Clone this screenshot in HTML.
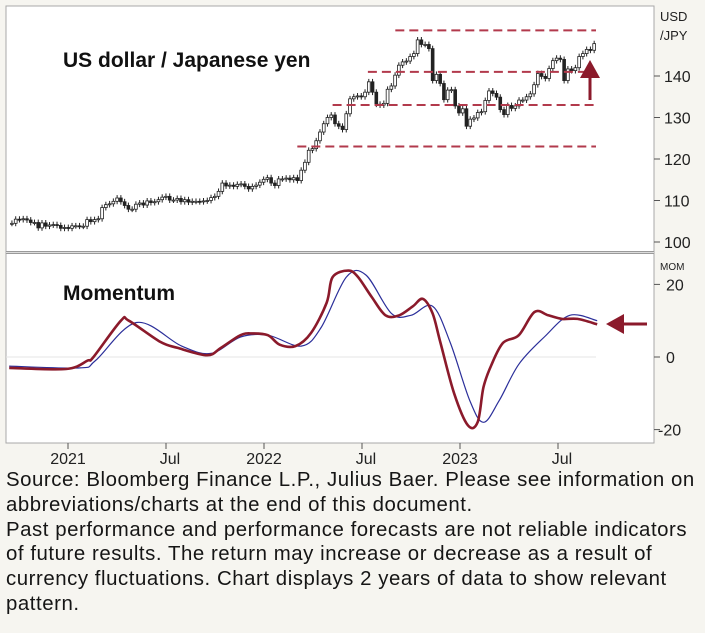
<!DOCTYPE html>
<html><head><meta charset="utf-8"><style>
body{margin:0;background:#f6f5f0;width:705px;height:633px;overflow:hidden;font-family:"Liberation Sans",sans-serif}
#src{position:absolute;left:6px;top:468px;width:705px;font-size:20.4px;letter-spacing:0.55px;line-height:24.8px;color:#151515;white-space:nowrap}
</style></head><body>
<svg id="chart" width="705" height="467" style="position:absolute;left:0;top:0" font-family="Liberation Sans, sans-serif">
<rect x="6" y="6" width="648" height="437" fill="#fff" stroke="#a8a8a8" stroke-width="1"/>
<line x1="6" x2="654" y1="252.5" y2="252.5" stroke="#9a9a9a" stroke-width="3"/>
<line x1="6" x2="654" y1="252.5" y2="252.5" stroke="#dcdcdc" stroke-width="1"/>
<g id="candles"></g>
<g id="levels"></g>
<g id="mom"></g>
<g id="axes"></g>
<text x="63" y="67" font-size="21" font-weight="bold" fill="#111">US dollar / Japanese yen</text>
<text x="63" y="300" font-size="21" font-weight="bold" fill="#111">Momentum</text>
<text x="660" y="21" font-size="13" fill="#222">USD</text>
<text x="660" y="40" font-size="13" fill="#222">/JPY</text>
<text x="660" y="270" font-size="10" fill="#222">MOM</text>
<g fill="#8b1a2b"><rect x="588.5" y="74" width="3" height="26"/><polygon points="580,78 600,78 590,60"/></g>
<g fill="#8b1a2b"><rect x="620" y="322.5" width="27" height="3"/><polygon points="624,314 624,334 606,324"/></g>
</svg>
<div id="src">Source: Bloomberg Finance L.P., Julius Baer. Please see information on<br>abbreviations/charts at the end of this document.<br>Past performance and performance forecasts are not reliable indicators<br>of future results. The return may increase or decrease as a result of<br>currency fluctuations. Chart displays 2 years of data to show relevant<br>pattern.</div>
<script>
const startT = 2020.714;
const closes = [104.5,105.5,105.4,105.6,105.3,104.7,104.7,103.4,104.6,103.8,104.1,104.2,104.0,103.3,103.5,103.3,
103.9,103.9,103.8,103.8,105.4,104.9,105.4,105.6,108.3,109.0,109.2,109.8,110.6,109.7,108.8,107.9,107.9,
109.1,109.4,108.9,109.9,109.5,109.7,110.2,110.8,111.0,110.1,110.1,110.5,109.7,110.2,109.6,109.8,109.8,
109.7,109.9,110.0,110.7,111.0,112.2,114.2,113.5,113.7,113.4,113.9,114.0,113.4,112.8,113.4,113.7,114.4,115.1,
115.5,114.2,113.6,115.2,115.2,115.4,115.0,115.5,114.8,117.3,119.2,122.1,122.5,124.4,126.5,128.5,130.0,
130.6,128.5,127.9,127.1,130.9,134.5,135.0,135.2,135.0,136.1,138.6,136.1,133.2,133.0,133.4,136.8,137.6,
140.2,142.6,143.4,143.6,144.7,145.4,148.7,147.6,147.6,146.6,138.9,140.4,138.2,134.3,136.6,136.7,132.8,131.1,
132.1,127.9,129.6,129.9,131.2,131.4,134.1,136.4,135.8,134.9,131.9,130.7,132.9,132.2,132.8,134.2,134.2,
135.0,135.7,137.9,140.6,139.9,139.4,141.8,143.7,144.3,144.0,138.9,141.7,141.3,142.0,144.7,145.4,146.4,146.2,147.8];
const levels = [151, 141, 133, 123];
const levelStartT = [2022.67, 2022.53, 2022.35, 2022.17];
const redT = [2020.7,2020.99,2021.1,2021.13,2021.27,2021.31,2021.47,2021.56,2021.71,2021.78,2021.88,2021.94,2022.02,2022.08,2022.16,2022.24,2022.32,2022.35,2022.43,2022.48,2022.55,2022.62,2022.69,2022.76,2022.81,2022.86,2022.9,2022.97,2023.04,2023.09,2023.12,2023.16,2023.22,2023.3,2023.38,2023.45,2023.52,2023.6,2023.7];
const redV = [-3,-3.3,-1,0,10,10,4.2,2.5,0.5,2.5,6,6.5,6,3.4,3,6.6,15,22,23.8,22,16.5,11.5,11.5,14,16,12,4,-10,-18.8,-18,-8.3,-2.2,3.9,6,12.4,11.5,10.5,10.5,9];
const blueT = [2020.7,2021.06,2021.14,2021.35,2021.58,2021.73,2021.88,2022.02,2022.19,2022.29,2022.42,2022.52,2022.65,2022.75,2022.86,2022.95,2023.05,2023.12,2023.2,2023.3,2023.43,2023.56,2023.7];
const blueV = [-2.5,-3,-1,9.5,3,1,5.5,6,3,8,22,22.6,12,11.5,14,4,-12,-18,-12,-2,5.5,11.5,10];
const priceTicks = [100,110,120,130,140];
const momTicks = [-20,0,20];
const xTicks = [2021,2021.5,2022,2022.5,2023,2023.5];
const xTickLabels = ["2021","Jul","2022","Jul","2023","Jul"];

const NS="http://www.w3.org/2000/svg";
const X = t => 68 + (t-2021)*196;
const Yp = v => 242 - (v-100)*4.15;
const Ym = v => 357 - v*3.63;
function mk(tag, attrs, parent){const e=document.createElementNS(NS,tag);for(const k in attrs)e.setAttribute(k,attrs[k]);parent.appendChild(e);return e;}
const cg=document.getElementById('candles');
for(let i=0;i<closes.length;i++){
  const t=startT+i*7/365.25, x=X(t);
  const c=closes[i], o=i?closes[i-1]:c;
  const hi=Math.max(o,c)+0.7, lo=Math.min(o,c)-0.7;
  const w=mk('line',{x1:x,x2:x,y1:Yp(hi),y2:Yp(lo),stroke:'#222','stroke-width':1},cg);
  
  
  const top=Yp(Math.max(o,c)), h=Math.max(1,Math.abs(Yp(o)-Yp(c)));
  const b=mk('rect',{x:x-1.4,y:top,width:2.8,height:h,fill:c>=o?'#fff':'#222',stroke:'#222','stroke-width':0.8},cg);
  
  
}
const lg=document.getElementById('levels');
levels.forEach((v,i)=>{
  const l=mk('line',{x1:X(levelStartT[i]),x2:596,y1:Yp(v),y2:Yp(v),stroke:'#b23a4c','stroke-width':2,'stroke-dasharray':'9 5'},lg);
  
  
});
const mg=document.getElementById('mom');
const z=mk('line',{x1:6,x2:596,y1:Ym(0),y2:Ym(0),stroke:'#e4e4e4','stroke-width':1},mg);


function path(ts,vs){
  const p=ts.map((t,i)=>[X(t),Ym(vs[i])]);
  let d='M'+p[0][0].toFixed(1)+','+p[0][1].toFixed(1);
  for(let i=0;i<p.length-1;i++){
    const p0=p[Math.max(0,i-1)],p1=p[i],p2=p[i+1],p3=p[Math.min(p.length-1,i+2)];
    const c1=[p1[0]+(p2[0]-p0[0])/6,p1[1]+(p2[1]-p0[1])/6];
    const c2=[p2[0]-(p3[0]-p1[0])/6,p2[1]-(p3[1]-p1[1])/6];
    d+=' C'+c1.map(n=>n.toFixed(1)).join(',')+' '+c2.map(n=>n.toFixed(1)).join(',')+' '+p2.map(n=>n.toFixed(1)).join(',');
  }
  return d;
}
const bl=mk('path',{d:path(blueT,blueV),fill:'none',stroke:'#2b2f9a','stroke-width':1.2,'stroke-linejoin':'round'},mg);


const rl=mk('path',{d:path(redT,redV),fill:'none',stroke:'#8b1a2b','stroke-width':2.6,'stroke-linejoin':'round'},mg);


const ag=document.getElementById('axes');
priceTicks.forEach(v=>{
  const tk=mk('line',{x1:654,x2:660,y1:Yp(v),y2:Yp(v),stroke:'#555'},ag);
  
  
  const tx=mk('text',{x:664,y:Yp(v)+6,'font-size':16,fill:'#222'},ag);
  tx.textContent=v;
  
  
});
momTicks.forEach(v=>{
  const tk=mk('line',{x1:654,x2:660,y1:Ym(v),y2:Ym(v),stroke:'#555'},ag);
  
  
  const tx=mk('text',{x:v<0?658:666,y:Ym(v)+6,'font-size':16,fill:'#222'},ag);
  tx.textContent=v;
  
  
});
xTicks.forEach((t,i)=>{
  const tk=mk('line',{x1:X(t),x2:X(t),y1:443,y2:449,stroke:'#555'},ag);
  
  
  const tx=mk('text',{x:X(t)+(i%2?4:0),y:464,'font-size':16,fill:'#222','text-anchor':'middle'},ag);
  tx.textContent=xTickLabels[i];
  
  
});
</script>
</body></html>
